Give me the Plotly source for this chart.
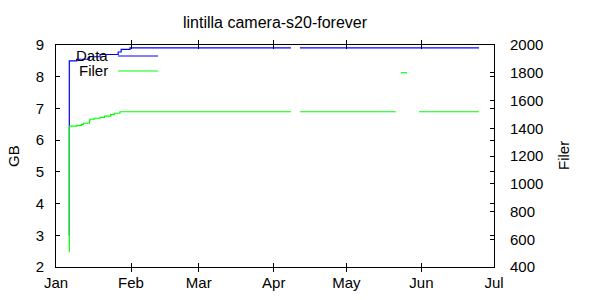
import plotly.graph_objects as go

# ---- data ----
data_dates = ["2015-01-06 10:00", "2015-01-06 12:00", "2015-01-09 13:00", "2015-01-14 19:00",
              "2015-01-19 05:00", "2015-01-26 17:00", "2015-01-27 22:00", "2015-01-31 14:00",
              "2015-04-08 02:00", "2015-04-08 03:00", "2015-04-11 19:00", "2015-06-24 19:00"]
data_gb = [3.0, 8.50, 8.55, 8.63, 8.70, 8.78, 8.86, 8.91, 8.91, None, 8.91, 8.91]

filer_dates = ["2015-01-06 10:00", "2015-01-06 12:00", "2015-01-09 13:00", "2015-01-11 14:00",
               "2015-01-12 07:00", "2015-01-14 19:00", "2015-01-15 00:00", "2015-01-16 19:00",
               "2015-01-19 05:00", "2015-01-21 00:00", "2015-01-23 14:00", "2015-01-25 02:00",
               "2015-01-27 10:00", "2015-04-08 02:00", "2015-04-08 03:00", "2015-04-11 19:00",
               "2015-05-21 10:00", "2015-05-21 11:00", "2015-05-23 14:00", "2015-05-26 00:00",
               "2015-05-26 01:00", "2015-05-31 00:00", "2015-06-24 19:00"]
filer_count = [510, 1416, 1421, 1428, 1436, 1452, 1465, 1472, 1479, 1488, 1498, 1508,
               1519, 1519, None, 1519, 1519, None, 1800, 1800, None, 1519, 1519]

month_ticks = ["2015-01-01", "2015-02-01", "2015-03-01", "2015-04-01", "2015-05-01", "2015-06-01", "2015-07-01"]
month_labels = ["Jan", "Feb", "Mar", "Apr", "May", "Jun", "Jul"]

FONT = "Liberation Sans"
FS = 15

fig = go.Figure()
fig.add_trace(go.Scatter(x=data_dates, y=data_gb, mode="lines", name="Data",
                         line=dict(color="#0000ff", width=1.2, shape="hv"), connectgaps=False))
fig.add_trace(go.Scatter(x=filer_dates, y=filer_count, mode="lines", name="Filer", yaxis="y2",
                         line=dict(color="#00ff00", width=1.2, shape="hv"), connectgaps=False))

L, R, T, B = 56, 494, 45, 267
W = R - L

def px(x):
    return (x - L) / W

axis_common = dict(showline=True, linecolor="black", linewidth=1, ticks="inside", ticklen=4,
                   tickcolor="black", showgrid=False, zeroline=False, automargin=False,
                   tickfont=dict(family=FONT, size=FS, color="black"))

fig.update_layout(
    width=600, height=300,
    margin=dict(l=L, r=600 - R, t=T, b=300 - B, autoexpand=False),
    paper_bgcolor="white", plot_bgcolor="white",
    showlegend=False,
    font=dict(family=FONT, size=FS, color="black"),
    title=dict(text="lintilla camera-s20-forever", x=0.5, xref="paper", xanchor="center",
               y=1 - 22 / 300, yref="container", yanchor="middle",
               font=dict(family=FONT, size=16, color="black")),
    xaxis=dict(type="date", range=["2015-01-01", "2015-07-01"], tickvals=month_ticks,
               ticktext=month_labels, mirror="allticks", ticklabelstandoff=2, **axis_common),
    yaxis=dict(range=[2, 9], dtick=1, mirror="allticks", ticklabelstandoff=8, **axis_common),
    yaxis2=dict(range=[400, 2000], dtick=200, overlaying="y", side="right",
                ticklabelstandoff=12, **axis_common),
)

# axis titles
fig.add_annotation(text="GB", xref="paper", yref="paper", x=px(13), y=0.5, showarrow=False,
                   textangle=-90, xanchor="center", yanchor="middle", font=dict(family=FONT, size=FS))
fig.add_annotation(text="Filer", xref="paper", yref="paper", x=px(563), y=0.5, showarrow=False,
                   textangle=-90, xanchor="center", yanchor="middle", font=dict(family=FONT, size=FS))

# key (gnuplot style: text then line sample)
def py(y):
    return (B - y) / (B - T)

for label, color, ty in [("Data", "#0000ff", 55), ("Filer", "#00ff00", 70)]:
    fig.add_annotation(text=label, xref="paper", yref="paper", x=px(110), y=py(ty), showarrow=False,
                       xanchor="right", yanchor="middle", font=dict(family=FONT, size=FS))
    fig.add_shape(type="line", xref="paper", yref="paper", x0=px(118), x1=px(158),
                  y0=py(ty + 1), y1=py(ty + 1), line=dict(color=color, width=1.2))

fig.write_html("out.html")
